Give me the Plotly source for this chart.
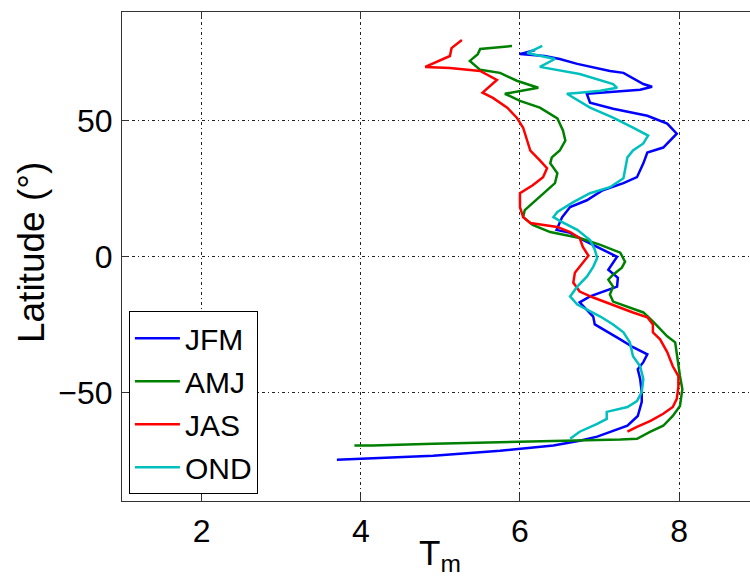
import plotly.graph_objects as go

# Seasonal mean T_m profiles against latitude
jfm_lat = [76.0, 74.5, 73.8, 72.7, 70.9, 68.3, 67.6, 65.7, 63.5, 62.5, 61.4, 60.3, 59.9, 56.6, 54.4,
           51.8, 48.9, 45.2, 42.7, 40.1, 38.3, 34.3, 29.2, 27.0, 24.4, 20.7, 18.2, 14.5, 9.8, 8.7,
           6.1, 2.5, -0.1, -4.9, -7.8, -11.1, -12.9, -14.7, -16.9, -19.5, -22.1, -25.0, -27.5,
           -30.5, -33.4, -36.0, -38.9, -41.5, -45.1, -49.9, -53.5, -58.7, -62.3, -64.1, -66.3,
           -67.8, -69.6, -71.5, -73.3, -74.4, -74.8]
jfm_t = [6.19, 6.00, 6.31, 6.50, 6.72, 7.13, 7.30, 7.42, 7.55, 7.66, 7.51, 7.01, 6.84, 6.88, 7.17,
         7.60, 7.85, 7.97, 7.89, 7.80, 7.60, 7.55, 7.47, 7.30, 7.04, 6.84, 6.63, 6.53, 6.46, 6.63,
         6.79, 7.04, 7.22, 7.11, 7.23, 7.22, 7.04, 6.88, 6.75, 6.84, 6.92, 6.94, 7.09,
         7.26, 7.42, 7.60, 7.55, 7.48, 7.51, 7.53, 7.53, 7.48, 7.35, 7.17, 6.97,
         6.75, 6.42, 5.75, 4.91, 4.08, 3.70]

amj_lat = [77.5, 76.7, 76.4, 74.5, 72.0, 68.7, 67.6, 64.7, 62.1, 59.9, 57.3, 54.8, 50.8, 46.4,
           42.7, 39.0, 36.5, 34.3, 30.6, 27.0, 24.4, 20.7, 18.9, 17.1, 14.5, 11.6, 9.0, 6.8, 4.3,
           1.4, -1.9, -4.1, -6.7, -8.5, -11.1, -14.0, -16.6, -18.4, -20.6, -23.9, -26.8, -29.4,
           -31.6, -36.0, -44.0, -48.8, -55.0, -58.7, -62.3, -64.5, -67.1, -67.4, -67.8, -68.2,
           -68.9, -69.6, -69.6]
amj_t = [5.90, 5.66, 5.50, 5.47, 5.37, 5.50, 5.75, 5.96, 6.23, 5.81, 6.00, 6.25, 6.47, 6.54,
         6.57, 6.50, 6.40, 6.38, 6.47, 6.44, 6.34, 6.21, 6.13, 6.06, 6.04, 6.16, 6.38, 6.75, 7.01,
         7.26, 7.32, 7.28, 7.17, 7.11, 7.17, 7.13, 7.17, 7.35, 7.55, 7.67, 7.76, 7.85,
         7.95, 7.97, 8.01, 8.04, 8.01, 7.92, 7.80, 7.64, 7.47, 7.26, 6.59, 5.75,
         4.91, 4.15, 3.92]

jas_lat = [79.7, 76.7, 73.8, 71.2, 69.8, 69.4, 68.3, 65.0, 62.8, 60.3, 58.4, 54.8, 51.1, 47.4,
           42.7, 39.0, 35.4, 32.5, 29.2, 26.2, 23.3, 18.2, 14.5, 12.3, 10.9, 9.0, 6.8, 3.5, 0.3,
           -3.8, -6.0, -9.6, -12.9, -15.1, -17.0, -18.8, -20.6, -22.4, -25.0, -27.9, -30.5,
           -35.2, -40.4, -44.0, -48.0, -52.4, -55.4, -57.9, -60.5, -62.7, -64.5]
jas_t = [5.27, 5.14, 5.12, 4.93, 4.81, 5.12, 5.50, 5.71, 5.62, 5.53, 5.66, 5.84, 5.96, 6.04,
         6.09, 6.13, 6.25, 6.34, 6.29, 6.16, 6.00, 6.00, 6.04, 6.13, 6.47, 6.63, 6.75, 6.79, 6.86,
         6.75, 6.69, 6.67, 6.75, 6.92, 7.09, 7.26, 7.42, 7.60, 7.67, 7.67, 7.76,
         7.85, 7.92, 7.99, 7.99, 7.97, 7.92, 7.80, 7.64, 7.47, 7.35]

ond_lat = [77.5, 74.9, 72.7, 69.8, 67.2, 63.5, 62.1, 61.0, 60.3, 59.9, 54.8, 51.1, 47.4, 44.5,
           41.6, 39.0, 36.5, 31.7, 28.8, 25.5, 23.3, 20.0, 16.4, 14.5, 13.1, 9.8, 6.1, 2.5, -0.5,
           -3.8, -7.4, -11.1, -14.7, -17.7, -19.5, -22.1, -25.0, -27.9, -31.6, -36.7, -40.4,
           -45.1, -49.9, -53.2, -55.4, -57.2, -59.8, -61.6, -64.5, -67.1]
ond_t = [6.28, 6.09, 6.44, 6.25, 6.75, 7.17, 7.22, 7.01, 6.75, 6.59, 6.88, 7.17, 7.42, 7.61,
         7.55, 7.42, 7.35, 7.32, 7.30, 7.13, 6.88, 6.67, 6.47, 6.42, 6.50, 6.72, 6.88, 6.94, 6.97,
         6.92, 6.84, 6.72, 6.63, 6.72, 6.84, 7.01, 7.17, 7.30, 7.38, 7.42, 7.51,
         7.55, 7.53, 7.47, 7.35, 7.09, 7.09, 6.97, 6.75, 6.63]

series = [
    ("JFM", jfm_t, jfm_lat, "#0000ff"),
    ("AMJ", amj_t, amj_lat, "#008000"),
    ("JAS", jas_t, jas_lat, "#ff0000"),
    ("OND", ond_t, ond_lat, "#00bfbf"),
]

x_ticks = [2, 4, 6, 8]
y_ticks = [-50, 0, 50]

FONT = "Liberation Sans, Arial, Helvetica, sans-serif"

fig = go.Figure()
for name, t, lat, color in series:
    fig.add_trace(go.Scatter(
        x=t, y=lat, mode="lines", name=name, legendgroup=name,
        line=dict(color=color, width=2.5),
    ))

axis_common = dict(
    showgrid=True, gridcolor="#222222", gridwidth=1, griddash="3px,3px,1px,3px",
    showline=True, linecolor="#333333", linewidth=1.2,
    ticks="inside", ticklen=6, tickcolor="#333333", tickwidth=1.2,
    zeroline=False, tickfont=dict(family=FONT, size=32, color="black"),
)

fig.update_xaxes(
    range=[1, 8.89], tickvals=x_ticks, mirror="ticks", ticklabelstandoff=1,
    **axis_common,
)
fig.update_yaxes(
    range=[-90, 90], tickvals=y_ticks, mirror=False, ticklabelstandoff=2,
    **axis_common,
)

# axis titles
fig.add_annotation(
    text="T<sub>m</sub>", xref="paper", yref="paper", x=0.506, y=-0.062,
    xanchor="center", yanchor="top", showarrow=False,
    font=dict(family=FONT, size=35, color="black"),
)
fig.add_annotation(
    text="Latitude (°)", xref="paper", yref="paper", x=-0.145, y=0.509,
    xanchor="center", yanchor="middle", textangle=-90, showarrow=False,
    font=dict(family=FONT, size=37, color="black"),
)

fig.update_layout(
    width=750, height=587,
    margin=dict(l=122, r=0, t=12, b=86, autoexpand=False),
    paper_bgcolor="white", plot_bgcolor="white",
    showlegend=True,
    legend=dict(
        x=0.011, y=0.014, xanchor="left", yanchor="bottom",
        bgcolor="white", bordercolor="black", borderwidth=1,
        font=dict(family=FONT, size=30, color="black"),
        tracegroupgap=1, itemwidth=45,
    ),
)

fig.write_html("out.html")
